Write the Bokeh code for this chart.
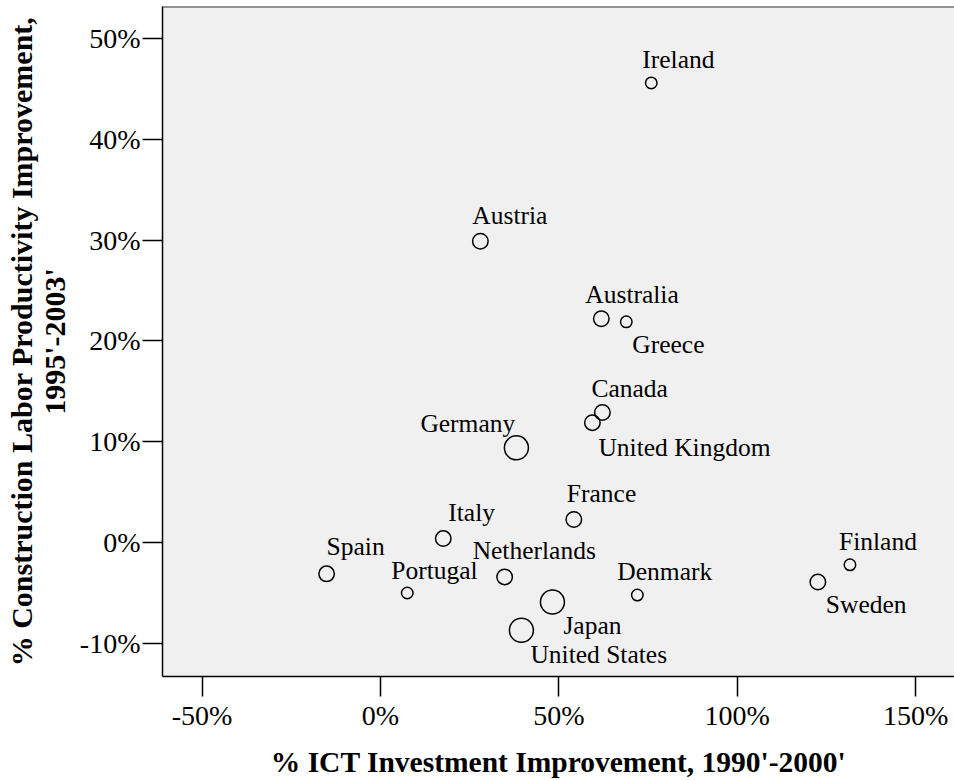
from bokeh.plotting import figure
from bokeh.models import ColumnDataSource, LabelSet, FixedTicker, PrintfTickFormatter, Span, Range1d
from bokeh.embed import file_html
from bokeh.resources import INLINE

# ---- data (percent) ----
countries = ["Ireland", "Austria", "Australia", "Greece", "Canada", "United Kingdom",
             "Germany", "France", "Italy", "Spain", "Portugal", "Netherlands",
             "Japan", "United States", "Denmark", "Finland", "Sweden"]
ict_improvement = [75.9, 28.0, 61.9, 68.9, 62.2, 59.4,
                   38.1, 54.2, 17.6, -15.1, 7.5, 34.8,
                   48.2, 39.5, 72.0, 131.6, 122.6]
labor_improvement = [45.6, 29.9, 22.2, 21.9, 12.9, 11.9,
                     9.4, 2.3, 0.4, -3.1, -5.0, -3.4,
                     -5.9, -8.7, -5.2, -2.2, -3.9]
size_class = [1, 2, 2, 1, 2, 2,
              3, 2, 2, 2, 1, 2,
              3, 3, 1, 1, 2]
x_ticks = [-50, 0, 50, 100, 150]
y_ticks = [-10, 0, 10, 20, 30, 40, 50]

# ---- styling ----
marker_px = {1: 11.5, 2: 15.5, 3: 24}
label_offsets = {  # (dx, dy) in screen px, dy positive = downward
    "Ireland": (-9, -15), "Austria": (-8, -17), "Australia": (-16, -16),
    "Greece": (6, 31), "Canada": (-11, -16), "United Kingdom": (6, 33),
    "Germany": (-96, -16), "France": (-7, -17), "Italy": (5, -18),
    "Spain": (0, -19), "Portugal": (-16, -14), "Netherlands": (-32, -18),
    "Japan": (11, 32), "United States": (9, 33), "Denmark": (-20, -15),
    "Finland": (-11, -15), "Sweden": (8, 31),
}

source = ColumnDataSource(data=dict(
    x=ict_improvement,
    y=labor_improvement,
    name=countries,
    size=[marker_px[s] for s in size_class],
    dx=[label_offsets[c][0] for c in countries],
    dy=[-label_offsets[c][1] for c in countries],
))

FONT = "Liberation Serif"
y_top, y_bot = 53.18, -13.28

p = figure(width=954, height=780, output_backend="svg", toolbar_location=None,
           x_range=Range1d(-61.1, 160.9), y_range=Range1d(y_bot, y_top),
           min_border_left=162, min_border_right=0, min_border_top=6, min_border_bottom=102)
p.background_fill_color = "#f0f0f0"
p.border_fill_color = "white"
p.outline_line_color = None
p.grid.visible = False

for ax in (p.xaxis[0], p.yaxis[0]):
    ax.axis_line_color = "black"
    ax.axis_line_width = 1.5
    ax.major_tick_line_color = "black"
    ax.major_tick_line_width = 1.5
    ax.major_tick_in = 0
    ax.major_tick_out = 20
    ax.minor_tick_line_color = None
    ax.major_label_text_font = FONT
    ax.major_label_text_font_size = "28px"
    ax.major_label_text_color = "black"
    ax.axis_label_text_font = FONT
    ax.axis_label_text_font_style = "bold"
    ax.axis_label_text_color = "black"
    ax.formatter = PrintfTickFormatter(format="%d%%")

p.xaxis.ticker = FixedTicker(ticks=x_ticks)
p.yaxis.ticker = FixedTicker(ticks=y_ticks)
p.xaxis.major_label_standoff = 3
p.yaxis.major_label_standoff = 2
p.xaxis.axis_label_standoff = 12
p.yaxis.axis_label_standoff = 6
p.xaxis.axis_label_text_font_size = "29.5px"
p.yaxis.axis_label_text_font_size = "30px"
p.xaxis.axis_label = "% ICT Investment Improvement, 1990'-2000'"
p.yaxis.axis_label = "% Construction Labor Productivity Improvement,\n1995'-2003'"
p.yaxis.axis_label_text_line_height = 1.0

p.add_layout(Span(location=y_top, dimension="width", line_color="#333333", line_width=2))

p.scatter("x", "y", source=source, size="size", marker="circle",
          fill_color=None, line_color="black", line_width=1.5)

labels = LabelSet(x="x", y="y", text="name", source=source,
                  x_offset="dx", y_offset="dy",
                  text_font=FONT, text_font_size="25.5px", text_color="black",
                  text_align="left", text_baseline="alphabetic")
p.add_layout(labels)

open("out.html", "w").write(file_html(p, INLINE))
